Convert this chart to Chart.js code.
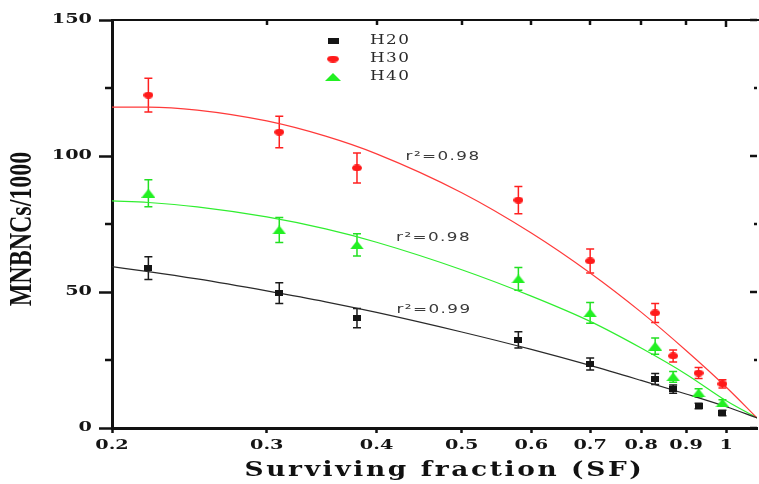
<!DOCTYPE html>
<html><head><meta charset="utf-8">
<script src="https://cdn.jsdelivr.net/npm/chart.js@4.4.1/dist/chart.umd.min.js"></script>
<style>
html,body{margin:0;padding:0;background:#fff;overflow:hidden;width:759px;height:484px}
canvas{display:block}
</style></head>
<body>
<canvas id="c" width="762" height="484" style="width:762px;height:484px"></canvas>
<script>
// ---------- data ----------
const seriesNames = ['H20', 'H30', 'H40'];
const survivingFraction = [0.22, 0.31, 0.38, 0.58, 0.70, 0.83, 0.87, 0.93, 0.99];
const h20    = [58.8, 49.6, 40.4, 32.4, 23.5, 18.0, 14.3, 8.1, 5.5];
const h20Err = [4.2, 3.8, 3.5, 3.0, 2.2, 2.0, 1.5, 1.0, 1.0];
const h30    = [122.4, 108.8, 95.6, 83.8, 61.4, 42.3, 26.5, 20.2, 16.2];
const h30Err = [6.2, 5.8, 5.5, 5.0, 4.4, 3.5, 2.2, 2.0, 1.5];
const h40    = [86.3, 72.8, 67.3, 54.8, 42.3, 30.1, 18.8, 12.9, 9.2];
const h40Err = [5.0, 4.6, 4.1, 4.2, 3.8, 3.0, 2.0, 1.5, 1.2];

const fitX   = [0.2, 0.22, 0.25, 0.3, 0.35, 0.4, 0.5, 0.6, 0.7, 0.8, 0.9, 1.0, 1.084];
const fitH20 = [59.3, 57.5, 54.8, 50.4, 46.4, 42.5, 35.3, 28.9, 23.0, 17.5, 12.5, 7.8, 3.7];
const fitH30 = [118.0, 118.0, 116.9, 112.9, 107.3, 100.8, 86.5, 71.7, 57.0, 42.6, 28.5, 15.0, 3.7];
const fitH40 = [83.5, 82.9, 81.3, 77.6, 73.2, 68.3, 58.2, 48.5, 39.2, 29.4, 19.8, 10.0, 3.7];

const r2Labels = ['r²=0.99', 'r²=0.98', 'r²=0.98'];
const r2AnchorX = [0.4215, 0.4316, 0.4210];
const r2AnchorY = [43.4, 99.6, 69.9];

const xTickValues = [0.2, 0.3, 0.4, 0.5, 0.6, 0.7, 0.8, 0.9, 1];
const yTickValues = [0, 50, 100, 150];
const yMinorTicks = [25, 75, 125];
const xTitle = 'Surviving fraction (SF)';
const yTitle = 'MNBNCs/1000';

// ---------- marker images ----------
function mk(w, h, color, shape) {
  const c = document.createElement('canvas');
  c.width = w; c.height = h;
  const g = c.getContext('2d');
  g.fillStyle = color;
  g.beginPath();
  if (shape === 'rect') g.rect(0, 0, w, h);
  else if (shape === 'ellipse') g.ellipse(w / 2, h / 2, w / 2, h / 2, 0, 0, Math.PI * 2);
  else { g.moveTo(w / 2, 0); g.lineTo(w, h); g.lineTo(0, h); g.closePath(); }
  g.fill();
  return c;
}
const markBlack = mk(8, 6, '#151515', 'rect');
const markRed = mk(10, 7, '#ff1a1a', 'ellipse');
const markGreen = mk(14, 9, '#22f022', 'tri');
const legBlack = mk(11, 6, '#151515', 'rect');
const legRed = mk(12, 7, '#ff1a1a', 'ellipse');
const legGreen = mk(16, 8, '#22f022', 'tri');

const pts = (xs, ys) => xs.map((x, i) => ({ x: x, y: ys[i] }));

// draw text horizontally stretched (the reference glyphs are wide)
function stretchText(ctx, sx, sy, spacing, fn) {
  const orig = CanvasRenderingContext2D.prototype.fillText;
  ctx.save();
  ctx.letterSpacing = spacing + 'px';
  ctx.fillText = function (t, x, y) {
    this.save(); this.translate(x, y); this.scale(sx, sy);
    orig.call(this, t, 0, 0); this.restore();
  };
  try { fn(); } finally { delete ctx.fillText; ctx.restore(); }
}

// ---------- plugins ----------
const textStylePlugin = {
  id: 'textStyle',
  beforeDraw(chart) {
    Object.values(chart.scales).forEach(s => {
      if (s._wrappedSp) return;
      s._wrappedSp = true;
      const cfg = s.axis === 'x'
        ? { lsx: 1.48, lsy: 1, tsx: 1.32, tsy: 1, tsp: 2, tdx: 10, tdy: 0 }
        : { lsx: 1.48, lsy: 1, tsx: 1, tsy: 1.3, tsp: 0, tdx: 0, tdy: 5 };
      const dl = s.drawLabels.bind(s), dt = s.drawTitle.bind(s);
      s.drawLabels = function (a) {
        stretchText(this.ctx, cfg.lsx, cfg.lsy, 0, () => dl(a));
      };
      s.drawTitle = function (a) {
        const c = this.ctx;
        c.save(); c.translate(cfg.tdx, cfg.tdy);
        stretchText(c, cfg.tsx, cfg.tsy, cfg.tsp, () => dt(a));
        c.restore();
      };
    });
  }
};

const errorBarPlugin = {
  id: 'errbars',
  beforeDatasetsDraw(chart) {
    const ctx = chart.ctx, xs = chart.scales.x, ys = chart.scales.y;
    chart.data.datasets.forEach(ds => {
      if (!ds.err) return;
      ctx.save();
      ctx.strokeStyle = ds.errColor; ctx.lineWidth = 1.5;
      ds.data.forEach((p, i) => {
        const px = xs.getPixelForValue(p.x);
        const t = ys.getPixelForValue(p.y + ds.err[i]);
        const b = ys.getPixelForValue(p.y - ds.err[i]);
        ctx.beginPath();
        ctx.moveTo(px, t); ctx.lineTo(px, b);
        ctx.moveTo(px - 4, t); ctx.lineTo(px + 4, t);
        ctx.moveTo(px - 4, b); ctx.lineTo(px + 4, b);
        ctx.stroke();
      });
      ctx.restore();
    });
  }
};

const decorPlugin = {
  id: 'decor',
  afterDraw(chart) {
    const ctx = chart.ctx, a = chart.chartArea, xs = chart.scales.x, ys = chart.scales.y;
    ctx.save();
    ctx.strokeStyle = '#111';
    // top frame line
    ctx.lineWidth = 2;
    ctx.beginPath(); ctx.moveTo(a.left - 1, a.top); ctx.lineTo(a.right + 2, a.top); ctx.stroke();
    // top inward ticks
    ctx.lineWidth = 2.5;
    xTickValues.forEach(v => {
      if (v === xTickValues[0]) return;
      const px = Math.round(xs.getPixelForValue(v));
      ctx.beginPath(); ctx.moveTo(px, a.top); ctx.lineTo(px, a.top + (v === 1 ? 7 : 5)); ctx.stroke();
    });
    // y minor outward ticks
    yMinorTicks.forEach(v => {
      const py = Math.round(ys.getPixelForValue(v));
      ctx.beginPath(); ctx.moveTo(a.left, py); ctx.lineTo(a.left - 7, py); ctx.stroke();
    });
    // right inward ticks
    yTickValues.concat(yMinorTicks).forEach(v => {
      const py = Math.round(ys.getPixelForValue(v));
      const len = yMinorTicks.includes(v) ? 3 : 7;
      ctx.beginPath(); ctx.moveTo(a.right, py); ctx.lineTo(a.right - len, py); ctx.stroke();
    });
    ctx.textAlign = 'left'; ctx.textBaseline = 'middle';
    // r^2 annotations
    ctx.fillStyle = '#3a3a3a';
    ctx.font = '12px "DejaVu Sans"';
    stretchText(ctx, 1.4, 1, 1, () => {
      r2Labels.forEach((t, i) => {
        ctx.fillText(t, xs.getPixelForValue(r2AnchorX[i]), ys.getPixelForValue(r2AnchorY[i]));
      });
    });
    // legend
    const legMarks = [legBlack, legRed, legGreen];
    const rowY = [41, 59, 77];
    seriesNames.forEach((n, i) => {
      const m = legMarks[i];
      ctx.drawImage(m, 333 - m.width / 2, rowY[i] - m.height / 2);
    });
    ctx.font = '12px "DejaVu Serif"';
    ctx.fillStyle = '#2a2a2a';
    stretchText(ctx, 1.4, 1, 1, () => {
      seriesNames.forEach((n, i) => ctx.fillText(n, 370, rowY[i]));
    });
    ctx.restore();
  }
};

// ---------- chart ----------
const tickFont = { family: '"DejaVu Serif"', size: 13, weight: 'bold' };
new Chart(document.getElementById('c'), {
  type: 'scatter',
  data: {
    datasets: [
      { label: seriesNames[0], data: pts(survivingFraction, h20), err: h20Err, errColor: '#1a1a1a',
        pointStyle: markBlack, pointRadius: 4, order: 0 },
      { label: seriesNames[1], data: pts(survivingFraction, h30), err: h30Err, errColor: '#ff2020',
        pointStyle: markRed, pointRadius: 4, order: 0 },
      { label: seriesNames[2], data: pts(survivingFraction, h40), err: h40Err, errColor: '#22e022',
        pointStyle: markGreen, pointRadius: 4, order: 0 },
      { label: 'fit ' + seriesNames[0], data: pts(fitX, fitH20), showLine: true, pointRadius: 0,
        borderColor: '#2a2a2a', borderWidth: 1.2, cubicInterpolationMode: 'monotone', order: 1 },
      { label: 'fit ' + seriesNames[1], data: pts(fitX, fitH30), showLine: true, pointRadius: 0,
        borderColor: '#ff3a3a', borderWidth: 1.2, cubicInterpolationMode: 'monotone', order: 1 },
      { label: 'fit ' + seriesNames[2], data: pts(fitX, fitH40), showLine: true, pointRadius: 0,
        borderColor: '#30ee30', borderWidth: 1.2, cubicInterpolationMode: 'monotone', order: 1 }
    ]
  },
  options: {
    responsive: false,
    devicePixelRatio: 1,
    animation: false,
    layout: { padding: { top: 20, right: 2, left: 0, bottom: 0 } },
    plugins: { legend: { display: false }, tooltip: { enabled: false } },
    scales: {
      x: {
        type: 'logarithmic', position: 'bottom', min: 0.2, max: 1.0838,
        afterBuildTicks: s => { s.ticks = xTickValues.map(v => ({ value: v })); },
        afterFit: s => { s.height = 56; },
        ticks: { callback: v => String(v), font: tickFont, color: '#151515', padding: 5,
                 autoSkip: false, maxRotation: 0, minRotation: 0 },
        grid: { drawOnChartArea: false, drawTicks: true, tickLength: 5, tickWidth: 2.5, tickColor: '#111' },
        border: { display: true, width: 3, color: '#111' },
        title: { display: true, text: xTitle, color: '#111',
                 font: { family: '"DejaVu Serif"', size: 20, weight: 'bold' },
                 padding: { top: 0, bottom: 1 } }
      },
      y: {
        type: 'linear', position: 'left', min: 0, max: 150,
        afterBuildTicks: s => { s.ticks = yTickValues.map(v => ({ value: v })); },
        afterFit: s => { s.width = 112; },
        ticks: { font: tickFont, color: '#151515', padding: 7 },
        grid: { drawOnChartArea: false, drawTicks: true, tickLength: 13, tickWidth: 2.5, tickColor: '#111' },
        border: { display: true, width: 3, color: '#111' },
        title: { display: true, text: yTitle, color: '#111',
                 font: { family: '"Liberation Serif"', size: 24, weight: 'bold' },
                 padding: { top: 9, bottom: 0 } }
      }
    }
  },
  plugins: [textStylePlugin, errorBarPlugin, decorPlugin]
});
</script>
</body></html>
